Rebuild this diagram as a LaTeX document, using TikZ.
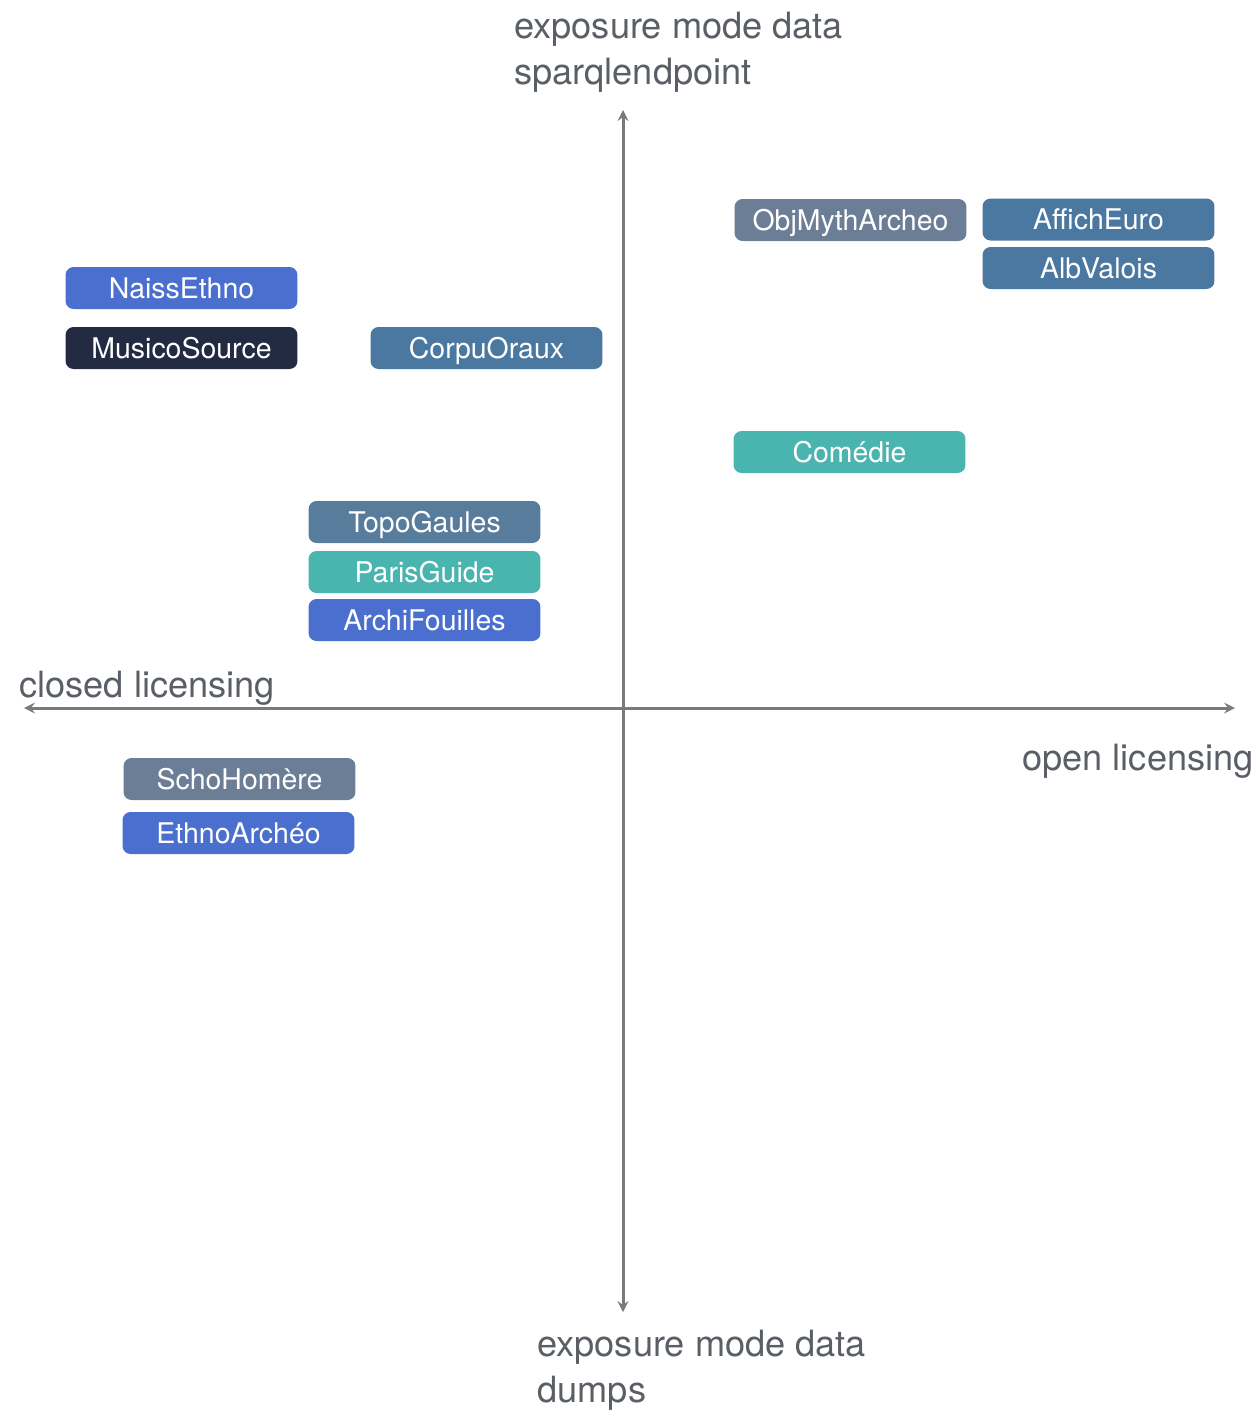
\documentclass[tikz,border=0pt]{standalone}
\usepackage{fontspec}
\setmainfont{TeX Gyre Heros}
\definecolor{cblu}{HTML}{4A6FCF}
\definecolor{cnavy}{HTML}{222B42}
\definecolor{csteel}{HTML}{4A78A0}
\definecolor{cslate}{HTML}{587C9C}
\definecolor{cgrey}{HTML}{6C7E96}
\definecolor{cteal}{HTML}{4AB4AF}
\definecolor{caxis}{HTML}{7A7A7A}
\definecolor{clab}{HTML}{5A5F66}
\begin{document}
\begin{tikzpicture}[x=0.02cm, y=-0.02cm, line join = round, >=stealth]
                \tikzset{db/.style={rectangle,rounded corners=1.6mm,minimum width=4.64cm,minimum height=0.84cm,inner sep=0pt,text height=13pt,text depth=1.5pt,text=white,font=\fontsize{16.2}{18}\selectfont},
                         lab/.style={inner sep=0pt,align=left,text=clab,font=\fontsize{20.6}{26}\selectfont},
                         ax/.style={draw=caxis,line width=1.7pt}}
                \useasboundingbox (0,0) rectangle (1259,1410);
                % axes
                \coordinate (T) at (623,110); \coordinate (B) at (623,1312);
                \coordinate (L) at (24,708); \coordinate (R) at (1235,708);
                \draw[ax,<->] (B)--(T);
                \draw[ax,<->] (L)--(R);
                % axis labels
                \path(514,12)node[lab,anchor=north west](lt){exposure mode data\\sparqlendpoint};
                \path(537,1330)node[lab,anchor=north west](lb){exposure mode data\\dumps};
                \path(19,697)node[lab,anchor=base west](ll){closed licensing};
                \path(1022,770)node[lab,anchor=base west](lr){open licensing};
                % datasets
                \foreach \n/\c/\x/\y/\t in {naiss/cblu/181.5/288/NaissEthno, musico/cnavy/181.5/348/MusicoSource,
                    corpu/csteel/486.5/348/CorpuOraux, objmyth/cgrey/850.5/220/ObjMythArcheo,
                    affich/csteel/1098.5/219.5/AffichEuro, alb/csteel/1098.5/268/AlbValois,
                    comedie/cteal/849.5/452/Comédie, topo/cslate/424.5/522/TopoGaules,
                    paris/cteal/424.5/572/ParisGuide, archi/cblu/424.5/620/ArchiFouilles,
                    scho/cgrey/239.5/779/SchoHomère, ethno/cblu/238.5/833/EthnoArchéo}{
                    \path(\x,\y)node[db,fill=\c](\n){\t};	}
            \end{tikzpicture}
\end{document}
